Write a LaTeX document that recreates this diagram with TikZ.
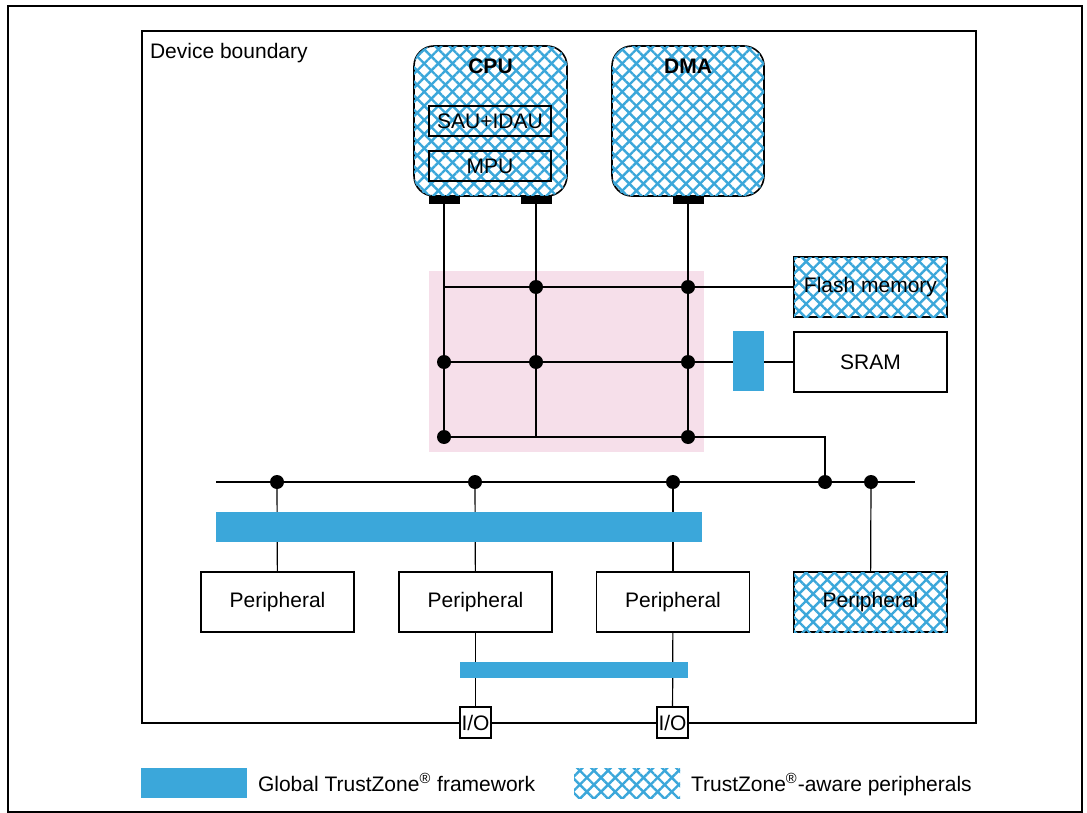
\documentclass[tikz,border=0pt]{standalone}
\usepackage{fontspec}
\setmainfont{Liberation Sans}
\usetikzlibrary{patterns.meta, positioning}
\definecolor{tzblue}{HTML}{3BA7DA}
\definecolor{matrixpink}{HTML}{F6DFEA}

\begin{document}
\begin{tikzpicture}[x=0.5pt, y=-0.5pt, font=\fontsize{10.5}{12}\selectfont,
    box/.style={draw, thick, fill=white, minimum width=76.5pt, minimum height=30pt, inner sep=0pt},
    aware/.style={fill=white,
        postaction={pattern={Lines[angle=45, distance=5pt, line width=1.2pt]}, pattern color=tzblue},
        postaction={pattern={Lines[angle=-45, distance=5pt, line width=1.2pt]}, pattern color=tzblue}},
    pad/.style={fill=black, minimum width=15.5pt, minimum height=4pt, inner sep=0pt},
    dot/.style={fill=black},
    wire/.style={semithick}]
    \useasboundingbox (0, 0) rectangle (1087, 813);
    \draw[thick] (8, 6) rectangle (1082, 812);
    \draw[line width=1pt] (142, 31) rectangle (976, 723);
    \node[anchor=west] at (143, 53) {Device boundary};

    % interconnect matrix
    \fill[matrixpink] (429, 271) rectangle (704, 452);

    % masters
    \node[draw, thick, aware, rounded corners=10pt, minimum width=76.5pt, minimum height=75pt] (cpu) at (490.5, 121) {};
    \node[font=\fontsize{10.5}{12}\selectfont\bfseries] at (490.5, 66) {CPU};
    \node[draw, semithick, minimum width=61pt, minimum height=15pt, inner sep=0pt] (sau) at (490, 121) {SAU+IDAU};
    \node[draw, semithick, minimum width=61pt, minimum height=15pt, inner sep=0pt] (mpu) at (490, 166) {MPU};
    \node[draw, thick, aware, rounded corners=10pt, minimum width=76pt, minimum height=75pt] (dma) at (688, 121) {};
    \node[font=\fontsize{10.5}{12}\selectfont\bfseries] at (688, 66) {DMA};
    \node[pad] (p1) at (444, 200) {};
    \node[pad] (p2) at (536, 200) {};
    \node[pad] (p3) at (688, 200) {};

    % slaves
    \node[box, aware] (flash) at (870.5, 287) {Flash memory};
    \node[box] (sram) at (870.5, 362) {SRAM};

    % grid points
    \foreach \x/\n in {444/a, 536/b, 688/c}{
        \coordinate (r1\n) at (\x, 287);
        \coordinate (r2\n) at (\x, 362);
        \coordinate (r3\n) at (\x, 437);
    }
    \coordinate (tap) at (825, 437);
    \foreach \x/\n in {216/s, 277/a, 475/b, 673/c, 825/d, 871/e, 915/f}
        \coordinate (bus\n) at (\x, 482);

    \draw[wire] (p1) -- (r3a);
    \draw[wire] (p2) -- (r3b);
    \draw[wire] (p3) -- (r3c);
    \draw[wire] (r1a) -- (flash.west);
    \draw[wire] (r2a) -- (sram.west);
    \draw[wire] (r3a) -- (tap) -- (busd);
    \draw[wire] (buss) -- (busf);
    \fill[tzblue] (733, 331) rectangle (764, 391);

    % peripherals
    \node[box] (per1) at (277.5, 602) {Peripheral};
    \node[box] (per2) at (475.5, 602) {Peripheral};
    \node[box] (per3) at (673, 602) {Peripheral};
    \node[box, aware] (per4) at (870.5, 602) {Peripheral};
    \node[draw, semithick, fill=white, minimum size=15.5pt, inner sep=0pt] (io1) at (475.5, 722.5) {I/O};
    \node[draw, semithick, fill=white, minimum size=15.5pt, inner sep=0pt] (io2) at (672.5, 722.5) {I/O};

    \draw[wire] (busa) -- (per1);
    \draw[wire] (busb) -- (per2);
    \draw[wire] (busc) -- (per3);
    \draw[wire] (buse) -- (per4);
    \draw[wire] (per2) -- (io1);
    \draw[wire] (per3) -- (io2);
    \fill[tzblue] (216, 512) rectangle (702, 542);
    \fill[tzblue] (460, 662) rectangle (688, 678);

    \foreach \p in {r1b, r1c, r2a, r2b, r2c, r3a, r3c, busa, busb, busc, busd, buse}
        \fill[dot] (\p) circle (3.5pt);

    % legend
    \fill[tzblue] (141, 768) rectangle (247, 798);
    \node[anchor=base west] at (251, 791) {Global TrustZone\textsuperscript{\textregistered} framework};
    \path[aware] (574, 768) rectangle (680, 798);
    \node[anchor=base west] at (684, 791) {TrustZone\textsuperscript{\textregistered}-aware peripherals};
\end{tikzpicture}
\end{document}
